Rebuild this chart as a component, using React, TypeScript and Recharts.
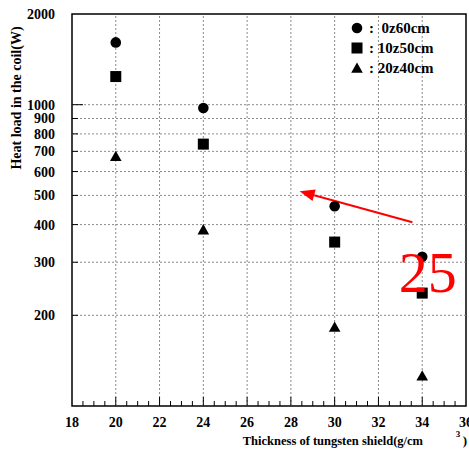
import React from 'react';
import { ScatterChart, Scatter, XAxis, YAxis, ReferenceLine, ReferenceArea, ReferenceDot, Legend } from 'recharts';

const thickness = [20, 24, 30, 34];
const series0z60 = [1610, 975, 460, 313];
const series10z50 = [1240, 740, 350, 237];
const series20z40 = [675, 385, 183, 126];
const seriesNames = ['0z60cm', '10z50cm', '20z40cm'];

const xTicks = [18, 18.5, 19, 19.5, 20, 20.5, 21, 21.5, 22, 22.5, 23, 23.5, 24, 24.5, 25, 25.5, 26, 26.5, 27, 27.5, 28, 28.5, 29, 29.5, 30, 30.5, 31, 31.5, 32, 32.5, 33, 33.5, 34, 34.5, 35, 35.5, 36];
const xLabelTicks = [18, 20, 22, 24, 26, 28, 30, 32, 34, 36];
const yTicks = [200, 300, 400, 500, 600, 700, 800, 900, 1000, 2000];
const gridX = [20, 22, 24, 26, 28, 30, 32, 34];
const gridY = [200, 300, 400, 500, 600, 700, 800, 900, 1000];

const xTitle = 'Thickness of tungsten shield(g/cm';
const yTitle = 'Heat load in the coil(W)';
const annotationText = '25';
const arrowFrom = { x: 33.55, y: 407 };
const arrowTo = { x: 28.4, y: 516 };
const annotationPos = { x: 34.25, y: 280 };

const FONT = "'Liberation Serif', 'Times New Roman', serif";

const toData = (vals: number[]) => thickness.map((x, i) => ({ x, y: vals[i] }));

const XTick = (props: any) => {
  const { x, y, payload } = props;
  const v = payload.value;
  const isLabel = xLabelTicks.includes(v);
  const isEdge = v === 18 || v === 36;
  return (
    <g>
      {!isEdge && <line x1={x} x2={x} y1={y} y2={y - (isLabel ? 9 : 5)} stroke="#000" strokeWidth={1} />}
      {isLabel && (
        <text x={x} y={y + 21} textAnchor="middle" fontFamily={FONT} fontWeight="bold" fontSize={14} fill="#000">
          {v}
        </text>
      )}
    </g>
  );
};

const YTick = (props: any) => {
  const { x, y, payload } = props;
  const v = payload.value;
  return (
    <g>
      {v !== 2000 && <line x1={x} x2={x + (v === 1000 ? 11 : 6)} y1={y} y2={y} stroke="#000" strokeWidth={1} />}
      <text x={x - 17} y={y + 5} textAnchor="end" fontFamily={FONT} fontWeight="bold" fontSize={14} fill="#000">
        {v}
      </text>
    </g>
  );
};

const circleShape = (p: any) => <circle cx={p.cx} cy={p.cy} r={5.3} fill="#000" />;
const squareShape = (p: any) => <rect x={p.cx - 5.5} y={p.cy - 5.5} width={11} height={11} fill="#000" />;
const triangleShape = (p: any) => (
  <polygon points={`${p.cx},${p.cy - 5.5} ${p.cx + 5.8},${p.cy + 4.8} ${p.cx - 5.8},${p.cy + 4.8}`} fill="#000" />
);

const ArrowShape = (p: any) => {
  const { x1, y1, x2, y2 } = p;
  const ang = Math.atan2(y2 - y1, x2 - x1);
  const L = 15;
  const W = 6;
  const bx = x2 - L * Math.cos(ang);
  const by = y2 - L * Math.sin(ang);
  const px = -Math.sin(ang) * W;
  const py = Math.cos(ang) * W;
  return (
    <g>
      <line x1={x1} y1={y1} x2={bx} y2={by} stroke="#ff0000" strokeWidth={2} />
      <polygon points={`${x2},${y2} ${bx + px},${by + py} ${bx - px},${by - py}`} fill="#ff0000" />
    </g>
  );
};

const AnnotationShape = (p: any) => (
  <text x={p.cx} y={p.cy + 21} textAnchor="middle" fontFamily={FONT} fontSize={58} fill="#ff0000">
    {annotationText}
  </text>
);

const legendSymbols = [
  <circle cx={7} cy={7} r={5.3} fill="#000" />,
  <rect x={1.5} y={1.5} width={11} height={11} fill="#000" />,
  <polygon points="7,1.5 12.8,11.8 1.2,11.8" fill="#000" />,
];

const LegendContent = () => (
  <div style={{ fontFamily: FONT, fontWeight: 'bold', fontSize: 15, color: '#000' }}>
    {seriesNames.map((n, i) => (
      <div key={n} style={{ display: 'flex', alignItems: 'center', height: 20, whiteSpace: 'pre' }}>
        <svg width={14} height={14} style={{ display: 'block' }}>{legendSymbols[i]}</svg>
        <span style={{ marginLeft: 5 }}>{i === 0 ? ':  ' + n : ': ' + n}</span>
      </div>
    ))}
  </div>
);

const YLabel = (props: any) => {
  const vb = props.viewBox || { x: 0, y: 14 };
  const cx = vb.x + 16.5;
  const cy = vb.y + 84;
  return (
    <text x={cx} y={cy} transform={`rotate(-90 ${cx} ${cy})`} textAnchor="middle" dominantBaseline="central" fontFamily={FONT} fontWeight="bold" fontSize={14} fill="#000">
      {yTitle}
    </text>
  );
};

const XLabel = (props: any) => {
  const vb = props.viewBox || { x: 72, y: 406 };
  const bx = vb.x;
  const by = vb.y;
  return (
    <g fontFamily={FONT} fontWeight="bold" fill="#000">
      <text x={bx + 351} y={by + 39} textAnchor="end" fontSize={12.5}>{xTitle}</text>
      <text x={bx + 386} y={by + 31} textAnchor="middle" fontSize={9}>3</text>
      <text x={bx + 393} y={by + 39} textAnchor="middle" fontSize={13}>)</text>
    </g>
  );
};

export default function App() {
  return (
    <div style={{ position: 'absolute', left: 0, top: 0, background: '#fff' }}>
      <ScatterChart width={469} height={450} margin={{ top: 14, right: 3, bottom: 0, left: 0 }}>
        <XAxis
          type="number"
          dataKey="x"
          domain={[18, 36]}
          ticks={xTicks}
          interval={0}
          axisLine={false}
          tickLine={false}
          tickSize={0}
          tickMargin={0}
          height={44}
          tick={<XTick />}
          allowDataOverflow
          label={{ content: XLabel } as any}
        />
        <YAxis
          type="number"
          dataKey="y"
          scale="log"
          domain={[100, 2000]}
          ticks={yTicks}
          interval={0}
          axisLine={false}
          tickLine={false}
          tickSize={0}
          tickMargin={0}
          width={72}
          tick={<YTick />}
          allowDataOverflow
          label={{ content: YLabel } as any}
        />
        {gridX.map((v) => (
          <ReferenceLine key={'gx' + v} x={v} stroke="#8a8a8a" strokeWidth={1} strokeDasharray="2 2" />
        ))}
        {gridY.map((v) => (
          <ReferenceLine key={'gy' + v} y={v} stroke="#8a8a8a" strokeWidth={1} strokeDasharray="2 2" />
        ))}
        <ReferenceArea x1={18} x2={36} y1={100} y2={2000} fill="none" fillOpacity={0} stroke="#000" strokeWidth={1.5} />
        <Legend
          layout="vertical"
          align="center"
          verticalAlign="middle"
          content={<LegendContent />}
          wrapperStyle={{ left: 350, top: 18, width: 119 }}
        />
        <Scatter name={seriesNames[0]} data={toData(series0z60)} shape={circleShape} isAnimationActive={false} />
        <Scatter name={seriesNames[1]} data={toData(series10z50)} shape={squareShape} isAnimationActive={false} />
        <Scatter name={seriesNames[2]} data={toData(series20z40)} shape={triangleShape} isAnimationActive={false} />
        <ReferenceLine segment={[arrowFrom, arrowTo]} shape={ArrowShape} />
        <ReferenceDot x={annotationPos.x} y={annotationPos.y} r={0} shape={AnnotationShape} />
      </ScatterChart>
    </div>
  );
}
